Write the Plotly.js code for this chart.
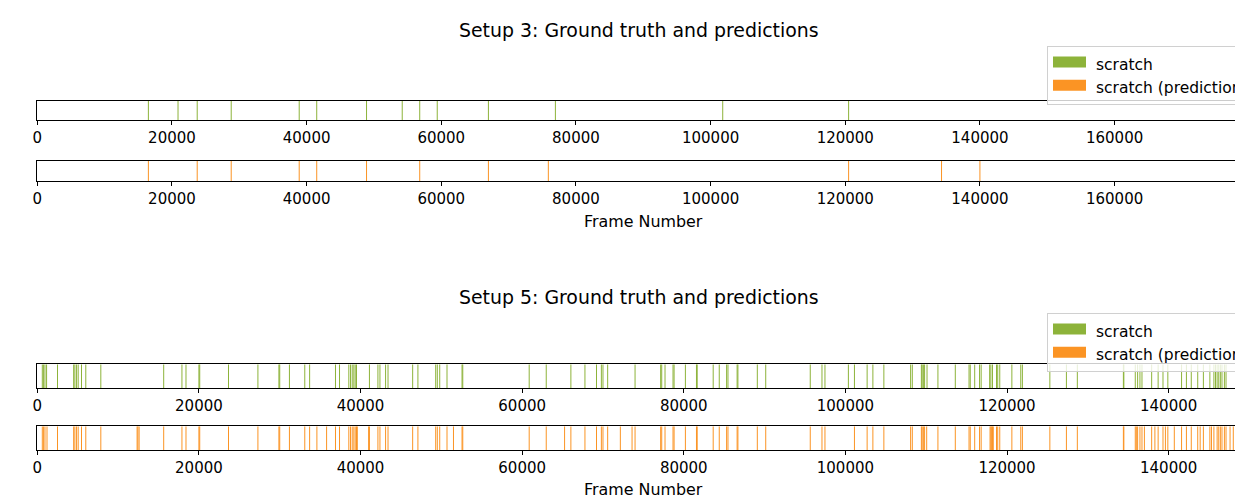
<!DOCTYPE html>
<html><head><meta charset="utf-8">
<script src="https://cdn.plot.ly/plotly-3.0.1.min.js"></script>
<style>html,body{margin:0;padding:0;overflow:hidden;width:1235px;height:497px;background:#fff}#chart{width:1300px;height:497px}</style>
</head><body><div id="chart"></div>
<script>
// ---- data (frame numbers) ----
const seriesNames = ["scratch", "scratch (predictions)"];
const chartTitles = ["Setup 3: Ground truth and predictions", "Setup 5: Ground truth and predictions"];
const xLabel = "Frame Number";
const setup3Frames = 178777;
const setup5Frames = 148954;
const setup3Truth = [16500, 20900, 23750, 28800, 38900, 41500, 48900, 54200, 56800, 59400, 67000, 76950, 101800, 120500];
const setup3Pred = [16500, 23750, 28800, 38900, 41500, 48900, 56800, 67000, 75900, 120500, 134300, 140000];
const setup5Truth = [620, 780, 950, 1150, 2500, 4500, 4650, 4860, 5060, 5470, 6000, 7860, 15640, 17900, 18400, 20000, 20100, 23660, 27300, 29900, 30000, 31200, 33100, 33700, 36900, 37400, 38550, 38760, 38970, 39170, 39340, 39500, 41100, 42150, 42400, 43100, 43400, 46450, 47100, 49300, 49500, 49800, 50700, 52560, 52650, 60870, 62980, 66030, 67770, 69200, 69800, 70000, 70580, 73970, 77140, 77270, 77680, 78670, 78800, 80200, 81570, 81660, 83640, 84390, 85300, 85470, 86600, 86700, 89100, 90140, 95650, 97100, 97470, 100370, 101120, 102690, 103400, 104760, 108070, 108280, 109400, 109500, 109650, 109800, 110100, 111450, 113600, 115300, 115450, 116000, 116600, 116800, 117850, 118000, 118200, 118700, 118850, 119100, 120600, 121700, 121900, 125300, 127350, 128700, 134400, 134460, 135870, 136160, 136450, 136700, 137900, 138700, 139300, 139900, 141600, 142200, 142800, 143600, 144300, 145100, 145600, 145800, 146000, 146200, 146400, 146600, 146900, 147100];
const setup5Pred = [620, 780, 950, 1200, 2500, 4500, 4650, 4860, 5060, 5470, 6000, 7860, 12350, 12450, 12600, 15640, 17900, 18400, 20000, 20100, 23660, 27300, 29900, 30000, 31200, 33100, 33700, 34600, 35800, 36900, 37400, 38550, 38760, 38970, 39170, 39340, 39500, 39600, 41000, 41100, 42150, 42400, 43100, 43400, 46450, 47100, 49300, 49500, 49800, 50700, 51500, 52560, 52650, 60870, 62980, 65250, 66030, 67770, 69200, 69800, 70000, 70580, 72150, 73600, 73970, 77140, 77270, 77680, 78670, 78800, 80200, 81570, 81660, 83640, 84390, 85300, 85470, 86600, 86700, 89100, 90140, 95650, 97100, 97470, 101120, 102690, 103400, 104760, 108070, 108280, 109400, 109500, 109650, 109800, 110060, 111450, 113600, 115300, 115450, 116000, 116600, 116800, 117900, 118000, 118100, 118200, 118300, 118700, 118850, 119100, 120600, 121700, 121900, 125300, 127350, 128700, 134400, 134460, 135870, 136000, 136160, 136450, 136700, 137000, 137900, 138300, 138700, 139300, 139600, 139900, 140700, 141600, 142200, 142800, 143600, 143900, 144300, 145100, 145300, 145600, 146000, 146200, 146400, 146600, 146900, 147100, 147600, 148000];

// ---- styling ----
const GREEN = '#8db33a', ORANGE = '#fb9424';
const FONT = 'DejaVu Sans';
const W = 1300, H = 497;
const px = v => v / W;
const py = v => 1 - v / H;

function segs(vals) {
  const x = [], y = [];
  vals.forEach(v => { x.push(v, v, null); y.push(0, 1, null); });
  return {x, y};
}
function stripTrace(vals, color, ax, name) {
  const s = segs(vals);
  return {type: 'scatter', mode: 'lines', x: s.x, y: s.y, xaxis: 'x' + ax, yaxis: 'y' + ax,
    line: {color: color, width: 1}, showlegend: false, hoverinfo: 'x', name: name};
}
function legendTrace(color, ax, name, legend) {
  return {type: 'scatter', mode: 'lines', x: [null], y: [null], xaxis: 'x' + ax, yaxis: 'y' + ax,
    fill: 'toself', fillcolor: color, line: {color: color, width: 10}, name: '\u00a0' + name, legend: legend, showlegend: true};
}

const traces = [
  stripTrace(setup3Truth, GREEN, '', seriesNames[0]),
  stripTrace(setup3Pred, ORANGE, '2', seriesNames[1]),
  stripTrace(setup5Truth, GREEN, '3', seriesNames[0]),
  stripTrace(setup5Pred, ORANGE, '4', seriesNames[1]),
  legendTrace(GREEN, '', seriesNames[0], 'legend'),
  legendTrace(ORANGE, '', seriesNames[1], 'legend'),
  legendTrace(GREEN, '3', seriesNames[0], 'legend2'),
  legendTrace(ORANGE, '3', seriesNames[1], 'legend2')
];

const xdom = [px(37.3), px(1241)];
function xax(range, anchor) {
  return {domain: xdom, range: [0, range], anchor: anchor, showline: true, mirror: true, linecolor: '#000', linewidth: 1,
    ticks: 'outside', ticklen: 4, tickwidth: 1, tickcolor: '#000', showgrid: false, zeroline: false,
    tick0: 0, dtick: 20000, tickformat: 'd', tickfont: {family: FONT, size: 15, color: '#000'}, fixedrange: true};
}
function yax(top, bottom, anchor) {
  return {domain: [py(bottom), py(top)], range: [0, 1], anchor: anchor, showline: true, mirror: true, linecolor: '#000', linewidth: 1,
    ticks: '', showticklabels: false, showgrid: false, zeroline: false, fixedrange: true};
}
const legendStyle = top => ({x: px(1047), xanchor: 'left', y: py(top), yanchor: 'top', bgcolor: 'rgba(255,255,255,0.8)',
  bordercolor: '#d0d0d0', borderwidth: 1, font: {family: FONT, size: 15.5, color: '#000'}, itemwidth: 33, tracegroupgap: 0});

const layout = {
  width: W, height: H, margin: {l: 0, r: 0, t: 0, b: 0}, paper_bgcolor: '#fff', plot_bgcolor: '#fff',
  font: {family: FONT, color: '#000'}, showlegend: true,
  xaxis: xax(setup3Frames, 'y'), yaxis: yax(100.7, 120.3, 'x'),
  xaxis2: xax(setup3Frames, 'y2'), yaxis2: yax(160.7, 181, 'x2'),
  xaxis3: xax(setup5Frames, 'y3'), yaxis3: yax(364.3, 388.3, 'x3'),
  xaxis4: xax(setup5Frames, 'y4'), yaxis4: yax(426.3, 450.3, 'x4'),
  legend: legendStyle(46), legend2: legendStyle(313),
  annotations: [
    {text: chartTitles[0], xref: 'paper', yref: 'paper', x: px(639), y: py(30), xanchor: 'center', yanchor: 'middle', showarrow: false, font: {family: FONT, size: 18.9, color: '#000'}},
    {text: chartTitles[1], xref: 'paper', yref: 'paper', x: px(639), y: py(297), xanchor: 'center', yanchor: 'middle', showarrow: false, font: {family: FONT, size: 18.9, color: '#000'}},
    {text: xLabel, xref: 'paper', yref: 'paper', x: px(643), y: py(221), xanchor: 'center', yanchor: 'middle', showarrow: false, font: {family: FONT, size: 15.9, color: '#000'}},
    {text: xLabel, xref: 'paper', yref: 'paper', x: px(643), y: py(489), xanchor: 'center', yanchor: 'middle', showarrow: false, font: {family: FONT, size: 15.9, color: '#000'}}
  ]
};
Plotly.newPlot('chart', traces, layout, {displayModeBar: false, staticPlot: true});
</script></body></html>
